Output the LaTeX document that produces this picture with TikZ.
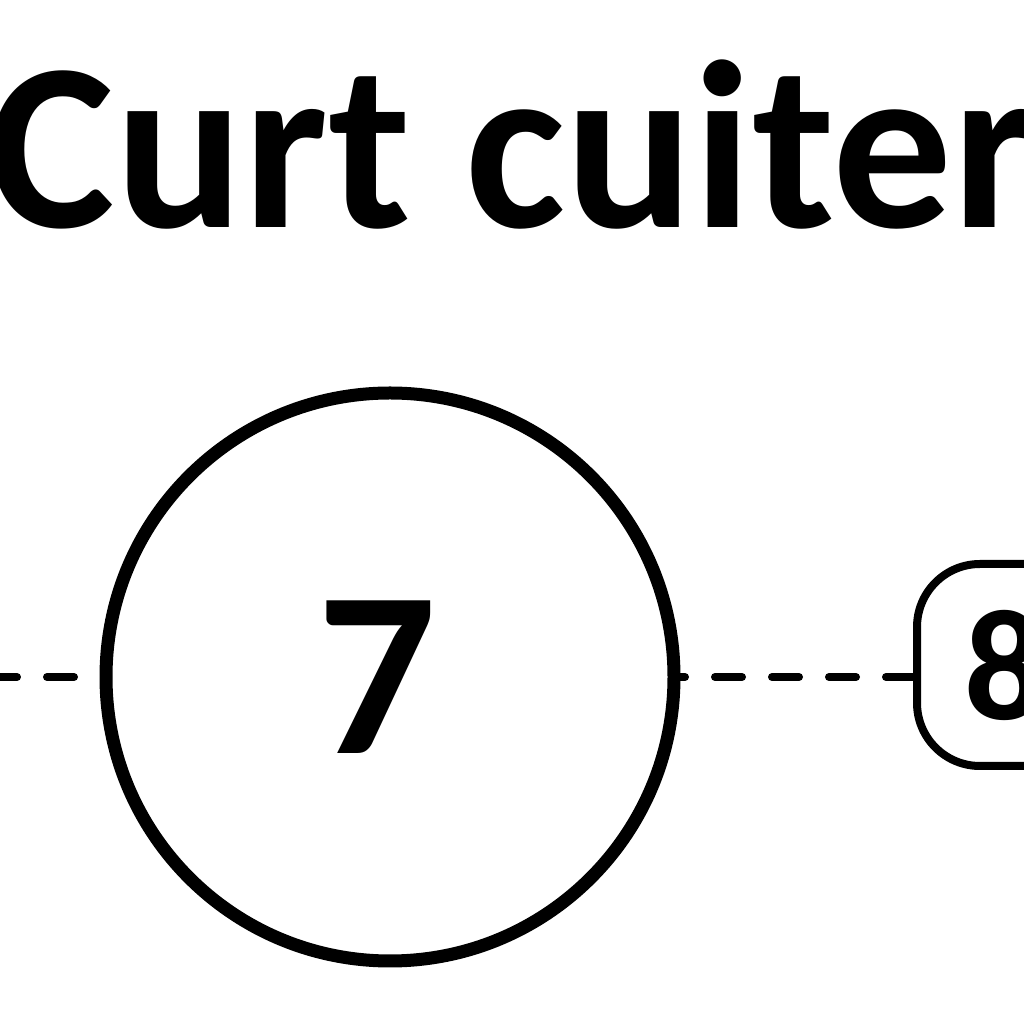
\documentclass[tikz,border=0pt]{standalone}
\usepackage{fontspec}
\setmainfont{Carlito}
\usetikzlibrary{positioning}

\begin{document}
\begin{tikzpicture}
[x=0.1mm,y=0.1mm,
  titleDecorate/.style={anchor=base west,inner sep=0pt,font=\bfseries\fontsize{68pt}{68pt}\selectfont},%
  bigDecorate/.style={shape=circle,draw,line width=1.3mm,minimum size=56.8mm,inner sep=0pt,
    font=\bfseries\fontsize{67pt}{67pt}\selectfont},%
  smallDecorate/.style={shape=rectangle,rounded corners=6.3mm,draw,line width=0.8mm,
    minimum width=17.6mm,minimum height=20.2mm,inner sep=0pt,
    font=\bfseries\fontsize{45pt}{45pt}\selectfont},%
  lineDecorate/.style={-,line width=0.8mm,line cap=round,dash pattern=on 2.7mm off 3mm}]
\useasboundingbox (0,0) rectangle (1024,1024);
%% title
\node (title) [titleDecorate] at (-12,796) {Curt cuiter};
%% nodes
\node (seven) [bigDecorate] at (390,347) {\hspace*{-2.6mm}7};
\node (eight) [smallDecorate] at (1005,359) {8};
\coordinate (lft) at (-10,347);
%% dashed connectors
\draw [lineDecorate] (lft) -- (seven.west);
\draw [lineDecorate] (eight.west |- seven) -- (seven.east);
\end{tikzpicture}
\end{document}
